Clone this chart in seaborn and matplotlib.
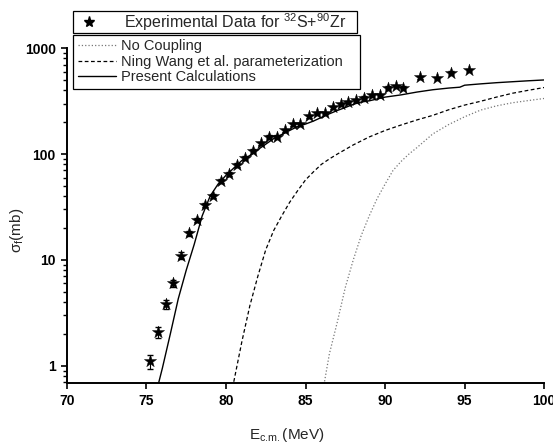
import matplotlib
matplotlib.use("Agg")
import matplotlib.pyplot as plt
import seaborn as sns
import numpy as np
from matplotlib.ticker import LogLocator, FuncFormatter, NullFormatter
from matplotlib.lines import Line2D

# ---- datos experimentales (32S + 90Zr) ----
exp_E = [75.2, 75.7, 76.2, 76.7, 77.2, 77.7, 78.2, 78.7, 79.2, 79.7, 80.2, 80.7,
         81.2, 81.7, 82.2, 82.7, 83.2, 83.7, 84.2, 84.65, 85.2, 85.7, 86.2, 86.7,
         87.2, 87.65, 88.15, 88.7, 89.2, 89.7, 90.2, 90.7, 91.15, 92.2, 93.25,
         94.15, 95.3]
exp_sigma = [1.1, 2.1, 3.8, 6.0, 11.0, 17.8, 23.8, 33.2, 40.6, 55.8, 64.6, 78.9,
             92.5, 107.7, 126, 146, 146, 168, 191, 191, 228, 244, 244, 276,
             296, 311, 325, 340, 360, 360, 425, 440, 425, 530, 520,
             588, 620]
exp_err = [0.17, 0.25, 0.35, 0.5, 0.8, 1.0, 1.2, 1.5, 1.8, 2.2, 2.5, 3.0,
           3.5, 4, 4, 5, 5, 5, 6, 6, 7, 7, 7, 8,
           8, 9, 9, 10, 10, 10, 12, 12, 12, 14, 14,
           15, 16]

# ---- Present Calculations ----
pc_E = [75.6, 76.0, 76.5, 77.0, 77.5, 78.0, 78.5, 79.0, 79.5, 80.0, 80.5, 81.0,
        81.5, 82.0, 82.5, 83.0, 83.5, 84.0, 84.5, 85.0, 85.5, 86.0, 86.5, 87.0,
        87.5, 88.0, 88.5, 89.0, 90.0, 91.0, 92.0, 93.0, 94.0, 94.7, 95.0, 96.0,
        97.0, 98.0, 99.0, 100.0]
pc_sigma = [0.55, 0.95, 2.0, 4.3, 8.0, 14, 26, 40, 52, 63, 74, 87,
            97, 110, 124, 140, 153, 167, 182, 192, 205, 222, 240, 258,
            275, 295, 310, 318, 345, 362, 385, 405, 420, 428, 447, 460,
            472, 482, 492, 501]

# ---- Ning Wang et al. parameterization ----
nw_E = [80.4, 80.5, 81.0, 81.5, 82.0, 82.5, 83.0, 83.5, 84.0, 84.5, 85.0, 85.5,
        86.0, 86.5, 87.0, 88.0, 89.0, 90.0, 91.0, 92.0, 93.0, 94.0, 95.0, 96.0,
        97.0, 98.0, 99.0, 100.0]
nw_sigma = [0.62, 0.72, 1.7, 3.7, 7.0, 12.5, 19, 26, 35, 45, 57, 68,
            80, 90, 100, 122, 145, 167, 188, 210, 232, 262, 290, 315,
            345, 375, 400, 425]

# ---- No Coupling ----
nc_E = [86.1, 86.2, 86.5, 87.0, 87.5, 88.0, 88.5, 89.0, 89.5, 90.0, 90.5, 91.0,
        91.5, 92.0, 93.0, 94.0, 95.0, 96.0, 97.0, 98.0, 99.0, 100.0]
nc_sigma = [0.62, 0.72, 1.3, 2.6, 5.5, 10, 17, 26, 38, 52, 70, 85,
            100, 115, 155, 190, 225, 260, 285, 305, 320, 335]

x_ticks = [70, 75, 80, 85, 90, 95, 100]

sns.set_style("ticks")
plt.rcParams['font.family'] = ['Liberation Sans', 'DejaVu Sans']
plt.rcParams['mathtext.fontset'] = 'custom'
plt.rcParams['mathtext.rm'] = 'Liberation Sans'
plt.rcParams['mathtext.it'] = 'Liberation Sans'

fig = plt.figure(figsize=(5.53, 4.46), dpi=100)
ax = fig.add_axes([0.121, 0.141, 0.863, 0.751])

sns.lineplot(x=nc_E, y=nc_sigma, ax=ax, color='#777777', linestyle=':', lw=0.9, sort=False)
sns.lineplot(x=nw_E, y=nw_sigma, ax=ax, color='k', linestyle=(0, (3, 2)), lw=0.9, sort=False)
sns.lineplot(x=pc_E, y=pc_sigma, ax=ax, color='k', linestyle='-', lw=1.0, sort=False)

ax.errorbar(exp_E, exp_sigma, yerr=exp_err, fmt='none', ecolor='k', elinewidth=0.8, capsize=2.5)
sns.scatterplot(x=exp_E, y=exp_sigma, ax=ax, marker='*', s=85, color='k', edgecolor='k',
                linewidth=0.3, zorder=5)

ax.set_yscale('log')
ax.set_xlim(70, 100)
ax.set_ylim(0.687, 1000)
ax.set_xticks(x_ticks)
ax.yaxis.set_major_locator(LogLocator(base=10, numticks=10))
ax.yaxis.set_minor_locator(LogLocator(base=10, subs=np.arange(2, 10), numticks=20))
ax.yaxis.set_major_formatter(FuncFormatter(lambda v, p: '%d' % round(v)))
ax.yaxis.set_minor_formatter(NullFormatter())

sns.despine(ax=ax)
for s in ['left', 'bottom']:
    ax.spines[s].set_linewidth(1.4)
    ax.spines[s].set_color('k')
ax.tick_params(axis='both', which='major', direction='out', length=4.5, width=1.2,
               labelsize=10, colors='k')
ax.tick_params(axis='y', which='minor', direction='out', length=3, width=1.0, colors='k')
for lab in ax.get_xticklabels() + ax.get_yticklabels():
    lab.set_fontweight('bold')

# etiquetas de los ejes
fig.text(0.519, 0.004, 'E$_{\\mathrm{c.\\!m.}}$(MeV)', fontsize=11, ha='center', va='bottom')
fig.text(0.031, 0.484, 'σ$_{f}$(mb)', fontsize=11, ha='center', va='center', rotation=90)

# leyendas (dos cajas)
h_exp = Line2D([], [], marker='*', color='k', linestyle='none', markersize=8)
leg1 = fig.legend([h_exp], ['Experimental Data for $^{32}$S+$^{90}$Zr'],
                  loc='lower left', bbox_to_anchor=(0.132, 0.926, 0.514, 0.05), mode='expand',
                  fancybox=False, edgecolor='k', framealpha=1, fontsize=11.5,
                  borderpad=0.0, handletextpad=1.2, borderaxespad=0)
leg1.get_frame().set_linewidth(0.9)
h_lines = [Line2D([], [], color='#777777', linestyle=':', lw=0.9),
           Line2D([], [], color='k', linestyle=(0, (3, 2)), lw=0.9),
           Line2D([], [], color='k', linestyle='-', lw=1.0)]
leg2 = fig.legend(h_lines, ['No Coupling', 'Ning Wang et al. parameterization', 'Present Calculations'],
                  loc='upper left', bbox_to_anchor=(0.132, 0.912, 0.519, 0.01), mode='expand',
                  fancybox=False, edgecolor='k', framealpha=1, fontsize=10.5,
                  borderpad=0.32, labelspacing=0.1, handlelength=2.6, handletextpad=0.35,
                  borderaxespad=0)
leg2.get_frame().set_linewidth(0.9)

fig.savefig('out.png', dpi=100)
